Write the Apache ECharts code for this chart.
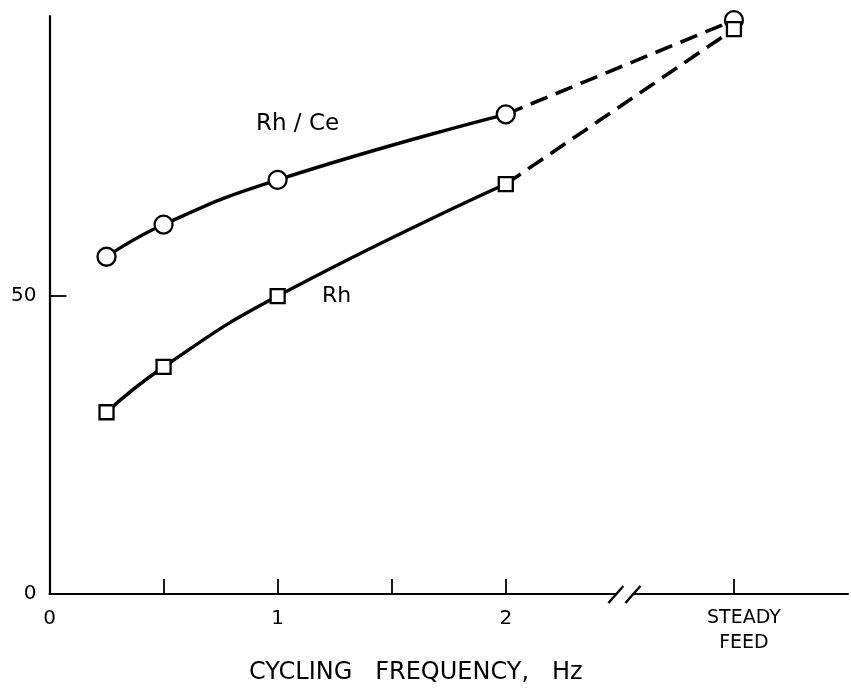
<!DOCTYPE html>
<html>
<head>
<meta charset="utf-8">
<script src="https://cdn.jsdelivr.net/npm/echarts@6/dist/echarts.min.js"></script>
<style>html,body{margin:0;padding:0;background:#fff}#c{width:851px;height:691px}</style>
</head>
<body>
<div id="c"></div>
<script>
// Data
var freqs = [0.25, 0.5, 1, 2];
var rhCe = [56.6, 62.0, 69.5, 80.5];
var rh = [30.5, 38.1, 50.0, 68.8];
var steadyX = 3;
var rhCeSteady = 96.3;
var rhSteady = 94.8;
var breakX = 2.52;
var xTickValues = [0.5, 1, 1.5, 2, 3];
var xLabelText = {0: '0', 1: '1', 2: '2', 3: ['STEADY', 'FEED']};
var yLabelText = {0: '0', 50: '50'};
var seriesNames = ['Rh / Ce', 'Rh'];
var axisTitle = 'CYCLING   FREQUENCY,   Hz';

var FONT = 'DejaVu Sans';
function pairs(xs, ys) { return xs.map(function (x, i) { return [x, ys[i]]; }); }

var chart = echarts.init(document.getElementById('c'), null, {renderer: 'canvas'});
var solidStyle = {color: '#000', width: 3.4};
var dashStyle = {color: '#000', width: 3.6, type: [18, 9]};
var markerStyle = {color: '#fff', borderColor: '#000', borderWidth: 2.3};

chart.setOption({
  animation: false,
  backgroundColor: '#fff',
  grid: {left: 49.5, right: 0.7, top: 16, bottom: 97, containLabel: false},
  xAxis: {
    type: 'value', min: 0, max: 3.5, interval: 0.5,
    axisLine: {show: true, lineStyle: {color: '#000', width: 2.2}},
    axisTick: {show: true, inside: true, length: 15, customValues: xTickValues, lineStyle: {color: '#000', width: 1.8}},
    axisLabel: {
      margin: 12, showMinLabel: true, showMaxLabel: true,
      formatter: function (v) {
        var t = xLabelText[v];
        if (t === undefined) return '';
        if (Array.isArray(t)) return t.map(function (s) { return '{s|' + s + '}'; }).join('\n');
        return t;
      },
      rich: {s: {fontFamily: FONT, fontSize: 19, color: '#000', padding: [0, 0, 0, 20], lineHeight: 25}},
      color: '#000', fontFamily: FONT, fontSize: 20, lineHeight: 25
    },
    splitLine: {show: false},
    name: axisTitle, nameLocation: 'middle', nameGap: 62,
    nameTextStyle: {color: '#000', fontFamily: FONT, fontSize: 24, padding: [0, 66, 0, 0]}
  },
  yAxis: {
    type: 'value', min: 0, max: 97, interval: 50,
    axisLine: {show: true, lineStyle: {color: '#000', width: 2.2}},
    axisTick: {show: true, inside: true, length: 17, customValues: [50], lineStyle: {color: '#000', width: 1.8}},
    axisLabel: {
      margin: 13, showMaxLabel: false,
      formatter: function (v) { return yLabelText[v] !== undefined ? yLabelText[v] : ''; },
      color: '#000', fontFamily: FONT, fontSize: 20
    },
    splitLine: {show: false}
  },
  graphic: [
    {type: 'text', left: 256, top: 113, style: {text: seriesNames[0], fill: '#000', font: '23px "DejaVu Sans"'}},
    {type: 'text', left: 322, top: 285, style: {text: seriesNames[1], fill: '#000', font: '22px "DejaVu Sans"'}}
  ],
  series: [
    {
      name: seriesNames[0] + ' steady', type: 'line', z: 3,
      data: [{value: [freqs[3], rhCe[3]], symbol: 'none'}, [steadyX, rhCeSteady]],
      lineStyle: dashStyle, symbol: 'circle', symbolSize: 18, itemStyle: markerStyle
    },
    {
      name: seriesNames[1] + ' steady', type: 'line', z: 3,
      data: [{value: [freqs[3], rh[3]], symbol: 'none'}, [steadyX, rhSteady]],
      lineStyle: dashStyle, symbol: 'rect', symbolSize: 14, itemStyle: markerStyle
    },
    {
      name: seriesNames[0], type: 'line', z: 4, smooth: 0.5,
      data: pairs(freqs, rhCe), lineStyle: solidStyle,
      symbol: 'circle', symbolSize: 18, itemStyle: markerStyle
    },
    {
      name: seriesNames[1], type: 'line', z: 4, smooth: 0.5,
      data: pairs(freqs, rh), lineStyle: solidStyle,
      symbol: 'rect', symbolSize: 14, itemStyle: markerStyle
    },
    {
      name: 'break', type: 'custom', z: 5, silent: true,
      data: [[breakX, 0]],
      renderItem: function (params, api) {
        var p = api.coord([api.value(0), api.value(1)]);
        var cx = p[0], cy = p[1];
        return {
          type: 'group',
          children: [
            {type: 'rect', shape: {x: cx - 8, y: cy - 3, width: 16, height: 6}, style: {fill: '#fff'}},
            {type: 'line', shape: {x1: cx - 16, y1: cy + 9, x2: cx - 1, y2: cy - 8}, style: {stroke: '#000', lineWidth: 2.4}},
            {type: 'line', shape: {x1: cx + 1, y1: cy + 9, x2: cx + 16, y2: cy - 8}, style: {stroke: '#000', lineWidth: 2.4}}
          ]
        };
      }
    }
  ]
});
</script>
</body>
</html>
